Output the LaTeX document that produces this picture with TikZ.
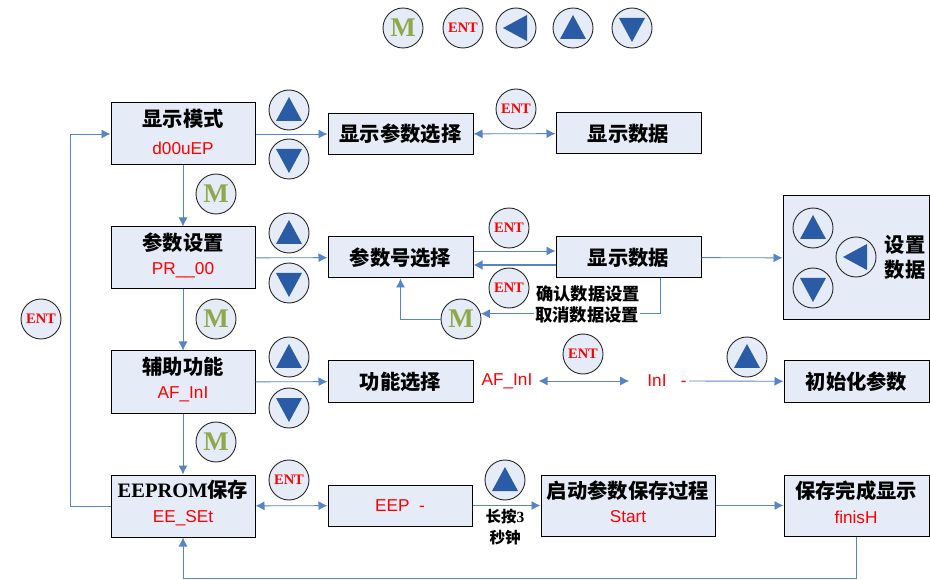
\documentclass[tikz,border=0pt]{standalone}
\usepackage{fontspec}
\setmainfont{Liberation Serif}
\newfontfamily\cjk{Noto Sans CJK SC}
\newfontfamily\arial{Liberation Sans}
\usetikzlibrary{arrows.meta}
\definecolor{boxfill}{HTML}{E6ECF7}
\definecolor{wire}{HTML}{5585C8}
\definecolor{tri}{HTML}{2A5CA5}
\definecolor{emm}{HTML}{8FA84C}
\tikzset{
  box/.style={draw=black,line width=1pt,fill=boxfill,inner sep=0pt,align=center},
  head/.style={font=\cjk\bfseries\fontsize{20.3}{24}\selectfont,text=black,inner sep=0pt},
  redl/.style={font=\arial\fontsize{17.2}{20}\selectfont,text=red,inner sep=0pt},
  note/.style={font=\cjk\bfseries\fontsize{17.3}{20}\selectfont,text=black,inner sep=0pt},
  btn/.style={circle,draw=black!85,line width=.9pt,fill=boxfill,minimum size=40pt,inner sep=0pt},
  mbtn/.style={btn,text=emm,font=\bfseries\fontsize{27}{27}\selectfont},
  entbtn/.style={btn,text=red,font=\bfseries\fontsize{14.5}{14.5}\selectfont},
  upbtn/.style={btn,path picture={\fill[tri] ([shift={(-13,11)}]path picture bounding box.center) -- ([shift={(13,11)}]path picture bounding box.center) -- ([shift={(0,-13)}]path picture bounding box.center) -- cycle;}},
  dnbtn/.style={btn,path picture={\fill[tri] ([shift={(-13,-10)}]path picture bounding box.center) -- ([shift={(13,-10)}]path picture bounding box.center) -- ([shift={(0,14)}]path picture bounding box.center) -- cycle;}},
  ltbtn/.style={btn,path picture={\fill[tri] ([shift={(11,-13)}]path picture bounding box.center) -- ([shift={(11,13)}]path picture bounding box.center) -- ([shift={(-13,0)}]path picture bounding box.center) -- cycle;}},
  wr/.style={draw=wire,line width=.9pt,-{Latex[length=9pt,width=9pt]}},
  wrr/.style={draw=wire,line width=.9pt,{Latex[length=9pt,width=9pt]}-{Latex[length=9pt,width=9pt]}},
  wrback/.style={draw=wire,line width=1.7pt,-{Latex[length=9pt,width=10pt]},shorten <=0pt}
}
\newcommand{\bigbox}[5]{% name, x1 y1 x2 y2 via centre
  \node[box,minimum width=#4pt,minimum height=#5pt] (#1) at (#2,#3) {};}
\begin{document}
\begin{tikzpicture}[x=1pt,y=-1pt]
\useasboundingbox (0,0) rectangle (930,580);
% boxes
\bigbox{a1}{183}{134}{144}{62}
\bigbox{a2}{183}{258}{144}{62}
\bigbox{a3}{183}{382}{144}{62}
\bigbox{a4}{183}{506}{144}{62}
\bigbox{b1}{400.5}{134}{145}{41}
\bigbox{b2}{400.5}{257.5}{145}{41}
\bigbox{b3}{400.5}{381.5}{145}{41}
\bigbox{b4}{400}{505.5}{144}{41}
\bigbox{c1}{628.5}{133.5}{145}{41}
\bigbox{c2}{628.5}{257.5}{145}{41}
\bigbox{d}{856}{258}{146}{124}
\bigbox{c3}{856.5}{381.5}{145}{41}
\bigbox{c4}{628}{505.5}{174}{61}
\bigbox{c5}{856.5}{505.5}{145}{61}
% inner texts
\node[head] (t1) at (183,119) {显示模式};
\node[redl] (r1) at (183,148) {d00uEP};
\node[head] (t2) at (183,243) {参数设置};
\node[redl] (r2) at (183,270) {PR\_\_00};
\node[head] (t3) at (183,367) {辅助功能};
\node[redl] (r3) at (183,394) {AF\_InI};
\node[head] (t4) at (183,490) {\fontsize{20.5}{24}\selectfont\rmfamily EEPROM\cjk\fontsize{20.3}{24}\selectfont 保存};
\node[redl] (r4) at (183,518) {EE\_SEt};
\node[head] at (b1.center) {显示参数选择};
\node[head] at (c1.center) {显示数据};
\node[head] at (b2.center) {参数号选择};
\node[head] at (c2.center) {显示数据};
\node[head] at (b3.center) {功能选择};
\node[head] at (c3.center) {初始化参数};
\node[redl] at (b4.center) {EEP\ \ -};
\node[head] (t5) at (628,491) {启动参数保存过程};
\node[redl] (r5) at (628,517) {Start};
\node[head] (t6) at (856,491) {保存完成显示};
\node[redl] (r6) at (856,517) {finisH};
\node[head] (s1) at (905,245) {设置};
\node[head] (s2) at (905,270) {数据};
% row 3 free labels
\node[redl] (af) at (507,381) {AF\_InI};
\node[redl] (inl) at (667,381) {InI\ \ \ -};
% buttons
\node[mbtn] (topm) at (403,28) {M};
\node[entbtn] (topent) at (463,28) {ENT};
\node[ltbtn] (topl) at (516,28) {};
\node[upbtn] (topu) at (573,28) {};
\node[dnbtn] (topd) at (632,28) {};
\node[upbtn] (u1) at (289,110) {};
\node[dnbtn] (d1) at (289,159) {};
\node[entbtn] (e1) at (516,109) {ENT};
\node[mbtn] (m1) at (216,194) {M};
\node[upbtn] (u2) at (289,233) {};
\node[dnbtn] (d2) at (289,283) {};
\node[entbtn] (e2) at (509,228) {ENT};
\node[entbtn] (e3) at (509,288) {ENT};
\node[mbtn] (m2) at (216,319) {M};
\node[mbtn] (m3) at (461,319) {M};
\node[upbtn] (u3) at (289,357) {};
\node[dnbtn] (d3) at (289,408) {};
\node[entbtn] (e4) at (583,354) {ENT};
\node[upbtn] (u4) at (747,357) {};
\node[mbtn] (m4) at (216,442) {M};
\node[entbtn] (e5) at (289,480) {ENT};
\node[upbtn] (u5) at (505,480) {};
\node[entbtn] (e6) at (41,319) {ENT};
\node[upbtn] (du) at (813,228) {};
\node[ltbtn] (dl) at (856,257) {};
\node[dnbtn] (dd) at (813,288) {};
% connectors
\draw[wr] (a1) -- (a2);
\draw[wr] (a2) -- (a3);
\draw[wr] (a3) -- (a4);
\draw[wr] (a1) -- (b1);
\draw[wrr] (b1) -- (c1);
\draw[wr] (a2) -- (b2);
\draw[wr] (c2) -- (d);
\draw[wr] (b2.east |- 0,251) -- (c2.west |- 0,251);
\draw[wrback] (c2.west |- 0,265) -- (b2.east |- 0,265);
\draw[wr] (a3) -- (b3);
\draw[wrr] (af.east) ++(6,0) -- ([xshift=-18pt]inl.west);
\draw[wr] ([xshift=2pt]inl.east) -- (c3);
\draw[wrr] (a4) -- (b4);
\draw[wr] (b4.east) -- (c4.west);
\draw[wr] (c4) -- (c5);
\draw[wr] (a4.west) -- (70,506) |- (a1.west);
\draw[wr] (c5.south) -- ++(0,42) -| (a4.south);
\draw[wr] (m3.west) -| (b2.south);
\coordinate (c2out) at (660,278);
\draw[wr] (c2out) |- (m3.15);
% notes on top of wires
\node[note] (n1) at (588,294) {确认数据设置};
\node[note,fill=white,inner xsep=1pt] (n2) at (587,315) {取消数据设置};
\node[note,align=center,font=\cjk\bfseries\fontsize{15.5}{21}\selectfont] (n3) at (505,527) {长按{\rmfamily 3}\\秒钟};
\end{tikzpicture}
\end{document}
